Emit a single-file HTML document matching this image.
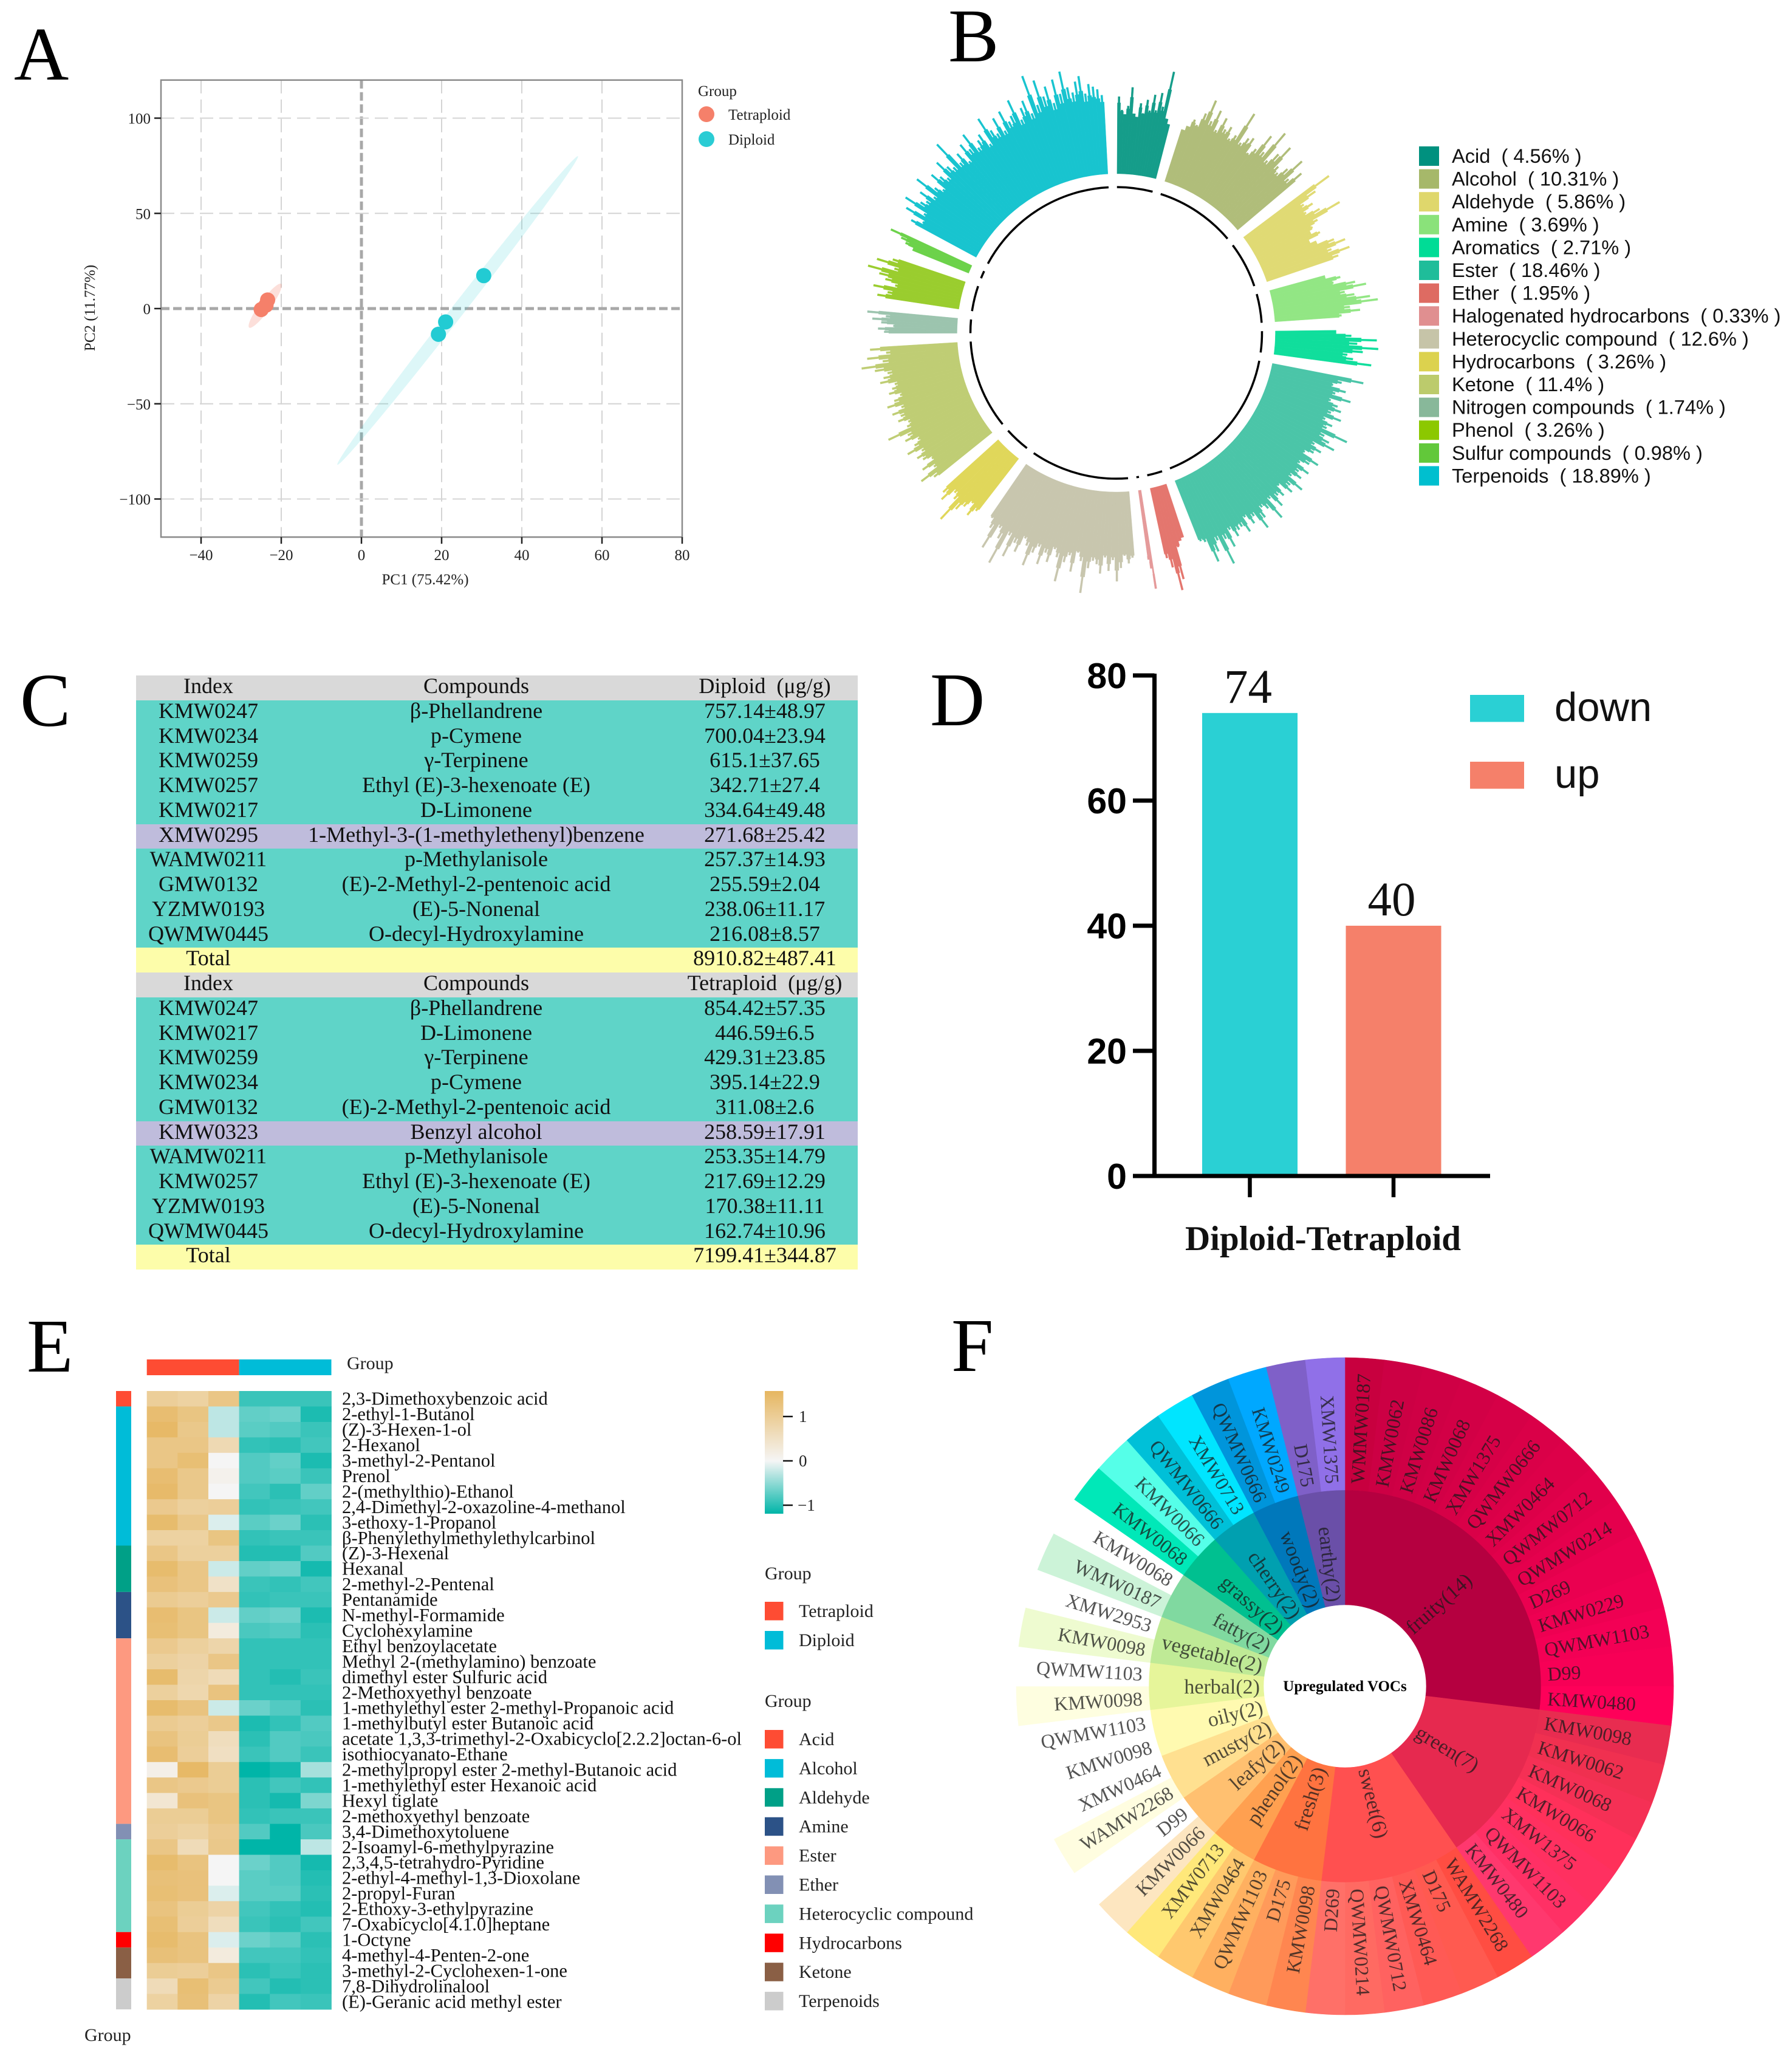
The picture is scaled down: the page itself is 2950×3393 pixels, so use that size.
<!DOCTYPE html>
<html lang="en">
<head>
<meta charset="utf-8">
<title>Volatile compounds in diploid and tetraploid samples</title>
<style>
html,body{margin:0;padding:0;background:#fff}
#page{position:relative;width:2950px;height:3393px;overflow:hidden;background:#fff}
#figure{position:absolute;left:0;top:0}
svg text{font-family:"Liberation Serif",serif;white-space:pre}
#voc-table{position:absolute;left:224px;top:1112px;width:1188px;font-family:"Liberation Serif",serif;font-size:36px;color:#111}
#voc-table .r{display:grid;grid-template-columns:238px 644px 306px;height:40.75px;line-height:35.5px;text-align:center;white-space:pre}
#voc-table .h{background:#d9d9d9}
#voc-table .t{background:#5fd4c8}
#voc-table .p{background:#bfbcdc}
#voc-table .y{background:#fdfdaa}
</style>
</head>
<body>
<div id="page">
<svg id="figure" width="2950" height="3393" viewBox="0 0 2950 3393">
  <defs>
    <linearGradient id="heat-gradient" x1="0" y1="0" x2="0" y2="1">
      <stop offset="0" stop-color="#e6b660"/>
      <stop offset="0.57" stop-color="#f5f5f5"/>
      <stop offset="1" stop-color="#00b5a8"/>
    </linearGradient>
  </defs>
  <text x="23" y="131" font-size="125">A</text>
  <text x="1561" y="101" font-size="125">B</text>
  <text x="33" y="1195" font-size="125">C</text>
  <text x="1531" y="1194" font-size="125">D</text>
  <text x="44" y="2258" font-size="125">E</text>
  <text x="1566" y="2257" font-size="125">F</text>

  <g id="panel-a">
    <text x="700" y="962" font-size="25" text-anchor="middle" fill="#222">PC1 (75.42%)</text>
    <text transform="translate(156,507) rotate(-90)" font-size="25" text-anchor="middle" fill="#222">PC2 (11.77%)</text>
    <text x="1149" y="158" font-size="25" fill="#222">Group</text>
    <circle cx="1163" cy="188" r="13" fill="#f5806a"/>
    <text x="1199" y="197" font-size="25" fill="#222">Tetraploid</text>
    <circle cx="1163" cy="229" r="13" fill="#2accd4"/>
    <text x="1199" y="238" font-size="25" fill="#222">Diploid</text>
  </g>
  <g id="panel-b"></g>
  <g id="panel-d">
    <text x="2178" y="2058" font-size="57" font-weight="bold" text-anchor="middle" fill="#111">Diploid-Tetraploid</text>
  </g>
  <g id="panel-e">
    <text x="571" y="2254" font-size="30" fill="#222">Group</text>
    <text x="139" y="3360" font-size="30" fill="#222">Group</text>
    <rect x="1259" y="2290" width="30.5" height="202" fill="url(#heat-gradient)"/>
    <text x="1259" y="2600" font-size="30" fill="#222">Group</text>
    <text x="1259" y="2810" font-size="30" fill="#222">Group</text>
  </g>
  <g id="panel-f"></g>
</svg>

<div id="voc-table">
<div class="r h"><span>Index</span><span>Compounds</span><span>Diploid  (μg/g)</span></div>
<div class="r t"><span>KMW0247</span><span>β-Phellandrene</span><span>757.14±48.97</span></div>
<div class="r t"><span>KMW0234</span><span>p-Cymene</span><span>700.04±23.94</span></div>
<div class="r t"><span>KMW0259</span><span>γ-Terpinene</span><span>615.1±37.65</span></div>
<div class="r t"><span>KMW0257</span><span>Ethyl (E)-3-hexenoate (E)</span><span>342.71±27.4</span></div>
<div class="r t"><span>KMW0217</span><span>D-Limonene</span><span>334.64±49.48</span></div>
<div class="r p"><span>XMW0295</span><span>1-Methyl-3-(1-methylethenyl)benzene</span><span>271.68±25.42</span></div>
<div class="r t"><span>WAMW0211</span><span>p-Methylanisole</span><span>257.37±14.93</span></div>
<div class="r t"><span>GMW0132</span><span>(E)-2-Methyl-2-pentenoic acid</span><span>255.59±2.04</span></div>
<div class="r t"><span>YZMW0193</span><span>(E)-5-Nonenal</span><span>238.06±11.17</span></div>
<div class="r t"><span>QWMW0445</span><span>O-decyl-Hydroxylamine</span><span>216.08±8.57</span></div>
<div class="r y"><span>Total</span><span></span><span>8910.82±487.41</span></div>
<div class="r h"><span>Index</span><span>Compounds</span><span>Tetraploid  (μg/g)</span></div>
<div class="r t"><span>KMW0247</span><span>β-Phellandrene</span><span>854.42±57.35</span></div>
<div class="r t"><span>KMW0217</span><span>D-Limonene</span><span>446.59±6.5</span></div>
<div class="r t"><span>KMW0259</span><span>γ-Terpinene</span><span>429.31±23.85</span></div>
<div class="r t"><span>KMW0234</span><span>p-Cymene</span><span>395.14±22.9</span></div>
<div class="r t"><span>GMW0132</span><span>(E)-2-Methyl-2-pentenoic acid</span><span>311.08±2.6</span></div>
<div class="r p"><span>KMW0323</span><span>Benzyl alcohol</span><span>258.59±17.91</span></div>
<div class="r t"><span>WAMW0211</span><span>p-Methylanisole</span><span>253.35±14.79</span></div>
<div class="r t"><span>KMW0257</span><span>Ethyl (E)-3-hexenoate (E)</span><span>217.69±12.29</span></div>
<div class="r t"><span>YZMW0193</span><span>(E)-5-Nonenal</span><span>170.38±11.11</span></div>
<div class="r t"><span>QWMW0445</span><span>O-decyl-Hydroxylamine</span><span>162.74±10.96</span></div>
<div class="r y"><span>Total</span><span></span><span>7199.41±344.87</span></div>
</div>
</div>

<script>
/* ---------- Panel A data ---------- */
const pcaXTicks = [-40, -20, 0, 20, 40, 60, 80];
const pcaYTicks = [-100, -50, 0, 50, 100];
const tetraploidPC1 = [-23.4, -23.8, -25];
const tetraploidPC2 = [4.5, 1.8, -0.5];
const diploidPC1 = [30.5, 21, 19.2];
const diploidPC2 = [17.3, -7, -13.5];
const tetraploidEllipsePC1 = [-28, -20];
const tetraploidEllipsePC2 = [-10, 13];
const diploidEllipsePC1 = [-6, 54];
const diploidEllipsePC2 = [-82, 80];

/* ---------- Panel B data ---------- */
const classNames = ["Acid","Alcohol","Aldehyde","Amine","Aromatics","Ester","Ether","Halogenated hydrocarbons","Heterocyclic compound","Hydrocarbons","Ketone","Nitrogen compounds","Phenol","Sulfur compounds","Terpenoids"];
const classShares = [4.56,10.31,5.86,3.69,2.71,18.46,1.95,0.33,12.6,3.26,11.4,1.74,3.26,0.98,18.89];
const classBarColors = ["#159d8a","#b0bd7a","#e0da74","#92e684","#10de9c","#4bc5a8","#e4766e","#e59a9a","#c8c6ae","#e0d75a","#bfcd74","#9cc4ae","#9acd2e","#6cd24a","#18c4cf"];
const classSwatchColors = ["#00917f","#a6b86a","#dfd76c","#8ae27a","#00dc96","#1fbd9a","#de6b62","#e08f90","#c6c4a8","#dcd24e","#bccb6c","#88b89a","#8cc800","#62c83a","#00bfcf"];
const acidBars = [127,105,98,112,143,100,95,118,102,125,108,135,110,140,118,178,100,92];
const alcoholBars = [90,98,112,105,128,154,120,142,110,135,118,126,108,118,164,112,125,130,105,118,150,122,168,115,135,156,120,112,128,154,118,140];
const aldehydeBars = [173,140,112,125,108,130,164,118,105,98,112,90,100,128,145,118,147,125];
const amineBars = [94,118,105,140,157,120,135,160,172,125,141,110];
const aromaticsBars = [100,125,167,135,170,145,120,130,161];
const esterBars = [153,118,105,128,112,140,108,122,130,115,135,110,125,118,158,120,132,145,112,128,118,105,135,122,108,130,115,125,110,138,118,128,105,122,115,132,110,146,120,112,128,144,115,125,108,132,118,120,128,112,140,122,164,118,135,150,112,108];
const etherBars = [92,96,105,158,175,135,118];
const halogenBars = [164,130,115];
const heterocyclicBars = [109,118,105,125,147,112,130,108,135,120,115,128,170,118,105,138,112,125,159,120,108,132,118,140,112,125,150,118,108,135,122,150,115,170,128,112,154,120,105];
const hydrocarbonBars = [111,125,105,118,130,159,120,112,135,125];
const ketoneBars = [120,141,110,128,105,118,125,112,135,118,108,128,120,152,115,110,125,118,130,112,134,120,108,125,118,112,135,128,120,140,161,125,150,118,144];
const nitrogenBars = [120,130,105,125,140,118,149];
const phenolBars = [136,120,145,110,128,140,161,118,150,125];
const sulfurBars = [100,115,125,146];
const terpenoidBars = [123,105,140,110,150,125,118,135,112,152,120,108,138,125,115,145,128,120,166,118,132,110,140,125,150,118,128,135,112,157,130,120,145,118,150,128,135,160,122,140,150,125,188,135,175,145,160,130,168,142,178,150,140,157,165,135,150,145,140,130];

/* ---------- Panel D data ---------- */
const diffCategories = ["down", "up"];
const diffCounts = [74, 40];
const diffTicks = [0, 20, 40, 60, 80];

/* ---------- Panel E data ---------- */
const heatLabels = ["2,3-Dimethoxybenzoic acid","2-ethyl-1-Butanol","(Z)-3-Hexen-1-ol","2-Hexanol","3-methyl-2-Pentanol","Prenol","2-(methylthio)-Ethanol","2,4-Dimethyl-2-oxazoline-4-methanol","3-ethoxy-1-Propanol","β-Phenylethylmethylethylcarbinol","(Z)-3-Hexenal","Hexanal","2-methyl-2-Pentenal","Pentanamide","N-methyl-Formamide","Cyclohexylamine","Ethyl benzoylacetate","Methyl 2-(methylamino) benzoate","dimethyl ester Sulfuric acid","2-Methoxyethyl benzoate","1-methylethyl ester 2-methyl-Propanoic acid","1-methylbutyl ester Butanoic acid","acetate 1,3,3-trimethyl-2-Oxabicyclo[2.2.2]octan-6-ol","isothiocyanato-Ethane","2-methylpropyl ester 2-methyl-Butanoic acid","1-methylethyl ester Hexanoic acid","Hexyl tiglate","2-methoxyethyl benzoate","3,4-Dimethoxytoluene","2-Isoamyl-6-methylpyrazine","2,3,4,5-tetrahydro-Pyridine","2-ethyl-4-methyl-1,3-Dioxolane","2-propyl-Furan","2-Ethoxy-3-ethylpyrazine","7-Oxabicyclo[4.1.0]heptane","1-Octyne","4-methyl-4-Penten-2-one","3-methyl-2-Cyclohexen-1-one","7,8-Dihydrolinalool","(E)-Geranic acid methyl ester"];
const heatValues = [
[.8,.7,1.05,-.85,-.85,-.85],[1.35,1.1,-.15,-.6,-.55,-1.05],[1.5,1,-.15,-.65,-.7,-.85],[1.05,1.05,.5,-.9,-.95,-.8],
[1.05,1.3,0,-.7,-.6,-1.05],[1.35,1,.03,-.7,-.65,-.85],[1.45,1,0,-.8,-.95,-.6],[.95,.75,.8,-.9,-.85,-.8],
[1.4,1,-.05,-.65,-.55,-.95],[.7,.7,1.1,-.9,-.85,-.85],[1.05,.75,.75,-1,-1,-.7],[1.4,1.05,-.1,-.6,-.55,-1.1],
[1.2,1.05,.3,-.85,-.9,-.8],[.9,.8,.95,-.9,-.85,-.85],[1.35,1.1,-.1,-.6,-.55,-1.05],[1.3,1.1,.12,-.75,-.7,-.95],
[.95,.75,.6,-.9,-.9,-.9],[.75,.65,1.05,-.9,-.9,-.9],[1.4,.6,.45,-.9,-1,-.85],[.75,.55,1.15,-.9,-.9,-.9],
[1.4,1.15,-.1,-.55,-.7,-.95],[.9,.8,1,-1.05,-.9,-.7],[1.15,.85,.4,-.95,-.7,-.75],[1.35,.8,.35,-.85,-.7,-.85],
[.05,1.5,.85,-1.25,-1.1,-.25],[1.05,.95,.85,-.95,-.8,-.9],[.2,1.2,1.1,-.95,-1.1,-.45],[.85,.85,1.1,-.9,-.85,-.85],
[.8,.7,.95,-.7,-1.25,-.75],[1.05,.45,1,-1.25,-1.25,-.15],[1.4,1.15,0,-.55,-.7,-1.1],[1.25,1.2,0,-.65,-.7,-1],
[1.3,1.2,-.05,-.65,-.65,-.95],[1.15,.85,.65,-.8,-.9,-1],[1.3,.8,.4,-.85,-.95,-.8],[1.4,1.15,-.05,-.55,-.65,-.95],
[1.25,1.15,.12,-.8,-.8,-.9],[.85,.8,1.05,-.95,-.85,-.95],[.45,1.3,.9,-.8,-1,-.95],[.7,1.25,.65,-1,-.8,-.85]];
const sampleGroups = ["Tetraploid", "Diploid"];
const sampleGroupColors = ["#fe4c33", "#00bcd8"];
const stripClasses = ["Acid","Alcohol","Aldehyde","Amine","Ester","Ether","Heterocyclic compound","Hydrocarbons","Ketone","Terpenoids"];
const stripCounts = [1,9,3,3,12,1,6,1,2,2];
const stripColors = ["#fe4c33","#00bcd8","#00a087","#2c5287","#fd9980","#8290b4","#6cd2bf","#ff0000","#8a5f45","#cccccc"];
const colorbarTicks = [1, 0, -1];

/* ---------- Panel F data ---------- */
const flavorNames = ["fruity","green","sweet","fresh","phenol","leafy","musty","oily","herbal","vegetable","fatty","grassy","cherry","woody","earthy"];
const flavorCounts = [14,7,6,3,2,2,2,2,2,2,2,2,2,2,2];
const flavorColors = ["#b50040","#e6294f","#ff5050","#ff7340","#ffa050","#ffc070","#ffe090","#fffab0","#e6f59a","#bfea96","#80d9a0","#00c090","#00a0b0","#0078bb","#6a4fa8"];
const leafLabels = ["WMMW0187","KMW0062","KMW0086","KMW0068","XMW1375","QWMW0666","XMW0464","QWMW0712","QWMW0214","D269","KMW0229","QWMW1103","D99","KMW0480","KMW0098","KMW0062","KMW0068","KMW0066","XMW1375","QWMW1103","KMW0480","WAMW2268","D175","XMW0464","QWMW0712","QWMW0214","D269","KMW0098","D175","QWMW1103","XMW0464","XMW0713","KMW0066","D99","WAMW2268","XMW0464","KMW0098","QWMW1103","KMW0098","QWMW1103","KMW0098","XMW2953","WMW0187","KMW0068","KMW0068","KMW0066","QWMW0666","XMW0713","QWMW0666","KMW0249","D175","XMW1375"];
const leafColors = ["#c8003f","#cc0044","#cf0045","#d20046","#d60047","#da0048","#dd0049","#e1004b","#e5004d","#ea0050","#ee0052","#f30055","#f70056","#fe0059","#e82c50","#f03050","#f53055","#ff305a","#ff3060","#ff3065","#ff386e","#ff4d42","#ff5a50","#ff5a55","#ff6260","#ff6a62","#ff7068","#ff8650","#ff9a5a","#ffb060","#ffc86e","#ffe87a","#fde6c0","#ffffff","#fffde0","#ffffff","#ffffff","#ffffff","#fefee0","#ffffff","#eefbd0","#ffffff","#ccf3d8","#ffffff","#00e8b8","#55ffe8","#00c0d8","#00e5ff","#0095db","#00a8ff","#7f60c8","#9070e8"];

/* ---------- Helpers ---------- */
const figure = document.getElementById('figure');
const NS = figure.namespaceURI;
function add(parent, tag, attrs, text) {
  const node = document.createElementNS(NS, tag);
  for (const key in attrs) node.setAttribute(key, attrs[key]);
  if (text !== undefined) node.textContent = text;
  parent.appendChild(node);
  return node;
}
function polar(cx, cy, r, deg) {
  const a = deg * Math.PI / 180;
  return [cx + r * Math.sin(a), cy - r * Math.cos(a)];
}
function fmt(p) { return p[0].toFixed(2) + ' ' + p[1].toFixed(2); }
function ringPath(cx, cy, r0, r1, a0, a1) {
  const large = a1 - a0 > 180 ? 1 : 0;
  return 'M' + fmt(polar(cx, cy, r0, a0)) + 'A' + r0 + ' ' + r0 + ' 0 ' + large + ' 1 ' + fmt(polar(cx, cy, r0, a1)) +
    'L' + fmt(polar(cx, cy, r1, a1)) + 'A' + r1 + ' ' + r1 + ' 0 ' + large + ' 0 ' + fmt(polar(cx, cy, r1, a0)) + 'Z';
}
function minusSign(v) { return String(v).replace('-', '\u2212'); }

/* ---------- Panel A ---------- */
(function () {
  const g = document.getElementById('panel-a');
  const px = v => 595 + 6.6 * v;
  const py = v => 508 - 3.135 * v;
  const left = px(-50), right = px(80), top = py(120), bottom = py(-120);

  pcaXTicks.slice(0, -1).forEach(v => {
    const line = add(g, 'line', {x1: px(v), x2: px(v), y1: top, y2: bottom, stroke: v === 0 ? '#a8a8a8' : '#d4d4d4', 'stroke-width': v === 0 ? 5 : 2, 'stroke-dasharray': v === 0 ? '14 6' : '22 10'});
    
    
  });
  pcaYTicks.forEach(v => {
    const line = add(g, 'line', {x1: left, x2: right, y1: py(v), y2: py(v), stroke: v === 0 ? '#a8a8a8' : '#d4d4d4', 'stroke-width': v === 0 ? 5 : 2, 'stroke-dasharray': v === 0 ? '14 6' : '22 10'});
    
    
  });

  function ellipse(xs, ys, halfWidth, color, opacity, name) {
    const x0 = px(xs[0]), x1 = px(xs[1]), y0 = py(ys[0]), y1 = py(ys[1]);
    const cx = (x0 + x1) / 2, cy = (y0 + y1) / 2;
    const half = Math.hypot(x1 - x0, y1 - y0) / 2;
    const angle = Math.atan2(y1 - y0, x1 - x0) * 180 / Math.PI;
    const e = add(g, 'ellipse', {cx: 0, cy: 0, rx: half, ry: halfWidth, fill: color, 'fill-opacity': opacity, transform: 'translate(' + cx + ' ' + cy + ') rotate(' + angle + ')'});
    
    
  }
  ellipse(tetraploidEllipsePC1, tetraploidEllipsePC2, 9, '#f5806a', 0.25, 'tetraploid-confidence-ellipse');
  ellipse(diploidEllipsePC1, diploidEllipsePC2, 10.5, '#2accd4', 0.16, 'diploid-confidence-ellipse');

  tetraploidPC1.forEach((v, i) => {
    const c = add(g, 'circle', {cx: px(v), cy: py(tetraploidPC2[i]), r: 12.5, fill: '#f5806a'});
    
    
  });
  diploidPC1.forEach((v, i) => {
    const c = add(g, 'circle', {cx: px(v), cy: py(diploidPC2[i]), r: 12.5, fill: '#22cbd3'});
    
    
  });

  const frame = add(g, 'rect', {x: left, y: top, width: right - left, height: bottom - top, fill: 'none', stroke: '#8a8a8a', 'stroke-width': 2.5});
  
  

  pcaXTicks.forEach(v => {
    const t = add(g, 'line', {x1: px(v), x2: px(v), y1: bottom, y2: bottom + 11, stroke: '#222', 'stroke-width': 2.5});
    
    
    const l = add(g, 'text', {x: px(v), y: 922, 'font-size': 25, 'text-anchor': 'middle', fill: '#222'}, minusSign(v));
    
    
  });
  pcaYTicks.forEach(v => {
    const t = add(g, 'line', {x1: left - 11, x2: left, y1: py(v), y2: py(v), stroke: '#222', 'stroke-width': 2.5});
    
    
    const l = add(g, 'text', {x: left - 17, y: py(v) + 9, 'font-size': 25, 'text-anchor': 'end', fill: '#222'}, minusSign(v));
    
    
  });
})();

/* ---------- Panel B ---------- */
(function () {
  const g = document.getElementById('panel-b');
  const cx = 1837.5, cy = 548, ringR = 240, baseR = 262;
  const gap = 3.3;
  const usable = 360 - gap * classShares.length;
  const sectorBars = [acidBars, alcoholBars, aldehydeBars, amineBars, aromaticsBars, esterBars, etherBars, halogenBars, heterocyclicBars, hydrocarbonBars, ketoneBars, nitrogenBars, phenolBars, sulfurBars, terpenoidBars];
  const barLength = v => v;
  let start = 0.3;
  classShares.forEach((share, s) => {
    const span = share / 100 * usable;
    const bars = sectorBars[s];
    const slot = span / bars.length;
    const arc = add(g, 'path', {d: 'M' + fmt(polar(cx, cy, ringR, start)) + 'A' + ringR + ' ' + ringR + ' 0 0 1 ' + fmt(polar(cx, cy, ringR, start + span)), fill: 'none', stroke: '#000', 'stroke-width': 3.5});
    
    
    bars.forEach((v, i) => {
      const mid = start + slot * (i + 0.5);
      const len = barLength(v);
      const shoulder = Math.min(len, 38 + len * 0.62);
      const a0 = start + slot * i, a1 = a0 + slot;
      const tipR = baseR + len, shoulderR = baseR + shoulder;
      const tipHalf = 1.6 / tipR * 180 / Math.PI;
      const pts = [polar(cx, cy, baseR, a0), polar(cx, cy, shoulderR, a0), polar(cx, cy, shoulderR, mid - tipHalf), polar(cx, cy, tipR, mid - tipHalf), polar(cx, cy, tipR, mid + tipHalf), polar(cx, cy, shoulderR, mid + tipHalf), polar(cx, cy, shoulderR, a1), polar(cx, cy, baseR, a1)];
      const bar = add(g, 'polygon', {points: pts.map(p => p[0].toFixed(1) + ',' + p[1].toFixed(1)).join(' '), fill: classBarColors[s], stroke: classBarColors[s], 'stroke-width': 0.4});
      
      
    });
    start += span + gap;

    const y = 257 + 37.6 * s;
    const sw = add(g, 'rect', {x: 2336, y: y - 16, width: 33, height: 32, fill: classSwatchColors[s]});
    
    
    const tx = add(g, 'text', {x: 2390, y: y + 11, 'font-size': 32.6, fill: '#111', style: 'font-family:"Liberation Sans",sans-serif'}, classNames[s] + '  ( ' + share + '% )');
    
    
  });
})();

/* ---------- Panel D ---------- */
(function () {
  const g = document.getElementById('panel-d');
  const py = v => 1936 - 10.3 * v;
  const axisX = 1900.5;
  const barCenters = i => 2057.5 + 236.5 * i;
  const barWidth = 157;
  const barColors = ['#2ad0d4', '#f5806a'];
  diffCounts.forEach((v, i) => {
    const b = add(g, 'rect', {x: barCenters(i) - barWidth / 2, y: py(v), width: barWidth, height: py(0) - py(v), fill: barColors[i]});
    
    
    const l = add(g, 'text', {x: barCenters(i) - 3, y: py(v) - 17, 'font-size': 79, 'text-anchor': 'middle', fill: '#111'}, v);
    
    
    const t = add(g, 'line', {x1: barCenters(i), x2: barCenters(i), y1: py(0), y2: 1971, stroke: '#000', 'stroke-width': 6.5});
    
    
    const sy = 1144 + 110 * i;
    const sw = add(g, 'rect', {x: 2420, y: sy, width: 89, height: 44.5, fill: barColors[i]});
    
    
    const lg = add(g, 'text', {x: 2559, y: sy + 43, 'font-size': 67, fill: '#111', style: 'font-family:"Liberation Sans",sans-serif'}, diffCategories[i]);
    
    
  });
  const yAxis = add(g, 'line', {x1: axisX, x2: axisX, y1: py(80) - 3, y2: py(0) + 3, stroke: '#000', 'stroke-width': 7});
  
  
  const xAxis = add(g, 'line', {x1: 1865, x2: 2453, y1: py(0), y2: py(0), stroke: '#000', 'stroke-width': 7});
  
  
  diffTicks.forEach(v => {
    const t = add(g, 'line', {x1: 1865, x2: axisX, y1: py(v), y2: py(v), stroke: '#000', 'stroke-width': 7});
    
    
    const l = add(g, 'text', {x: 1855, y: py(v) + 21, 'font-size': 59, 'font-weight': 'bold', 'text-anchor': 'end', fill: '#000', style: 'font-family:"Liberation Sans",sans-serif'}, v);
    
    
  });
})();

/* ---------- Panel E ---------- */
(function () {
  const g = document.getElementById('panel-e');
  const colX = i => 241.7 + 50.63 * i;
  const rowY = i => 2290 + 25.45 * i;
  const lerp = (a, b, t) => a.map((c, k) => Math.round(c + (b[k] - c) * t));
  function heatColor(v) {
    const gold = [230, 182, 96], mid = [245, 245, 245], teal = [0, 181, 168];
    const c = v >= 0 ? lerp(mid, gold, Math.pow(Math.min(v / 1.6, 1), 0.7)) : lerp(mid, teal, Math.pow(Math.min(-v / 1.25, 1), 0.7));
    return 'rgb(' + c.join(',') + ')';
  }
  sampleGroups.forEach((name, i) => {
    const b = add(g, 'rect', {x: colX(i * 3), y: 2238, width: 50.63 * 3, height: 26, fill: sampleGroupColors[i]});
    
    
    const y = 2637 + 48 * i;
    const sw = add(g, 'rect', {x: 1259, y: y, width: 30.5, height: 30.5, fill: sampleGroupColors[i]});
    
    
    const tx = add(g, 'text', {x: 1315, y: y + 25, 'font-size': 30, fill: '#222'}, name);
    
    
  });
  heatValues.forEach((row, r) => {
    row.forEach((v, c) => {
      const cell = add(g, 'rect', {x: colX(c), y: rowY(r), width: 51, height: 25.9, fill: heatColor(v)});
      
      
    });
    const lab = add(g, 'text', {x: 563, y: rowY(r) + 12.7 + 10, 'font-size': 30.5, fill: '#111'}, heatLabels[r]);
    
    
  });
  let rowCursor = 0;
  stripCounts.forEach((n, i) => {
    const s = add(g, 'rect', {x: 191, y: rowY(rowCursor), width: 25, height: 25.45 * n, fill: stripColors[i]});
    
    
    rowCursor += n;
    const y = 2863 + 47.9 * i;
    const sw = add(g, 'rect', {x: 1259, y: y - 15, width: 30.5, height: 30.5, fill: stripColors[i]});
    
    
    const tx = add(g, 'text', {x: 1315, y: y + 10, 'font-size': 30, fill: '#222'}, stripClasses[i]);
    
    
  });
  const barY = v => 2405 - 73 * v;
  colorbarTicks.forEach(v => {
    const t = add(g, 'line', {x1: 1289, x2: 1305, y1: barY(v), y2: barY(v), stroke: '#111', 'stroke-width': 2.5});
    
    
    const l = add(g, 'text', {x: v < 0 ? 1313 : 1315, y: barY(v) + 9, 'font-size': 27, fill: '#222'}, minusSign(v));
    
    
  });
})();

/* ---------- Panel F ---------- */
(function () {
  const g = document.getElementById('panel-f');
  const cx = 2214, cy = 2776, holeR = 134, midR = 323, outerR = 541;
  const total = flavorCounts.reduce((a, b) => a + b, 0);
  const angleOf = n => n / total * 360;
  function radialLabel(parent, r, deg, size, text, name) {
    const right = deg < 180;
    const p = polar(cx, cy, r, deg);
    const l = add(parent, 'text', {transform: 'translate(' + p[0].toFixed(1) + ' ' + p[1].toFixed(1) + ') rotate(' + (right ? deg - 90 : deg + 90).toFixed(2) + ')', 'font-size': size, 'text-anchor': right ? 'start' : 'end', dy: '.35em', fill: '#1a1a1a', 'fill-opacity': 0.75}, text);
    
    
  }
  let leafCursor = 0;
  flavorCounts.forEach((n, f) => {
    const a0 = angleOf(leafCursor), a1 = angleOf(leafCursor + n);
    const seg = add(g, 'path', {d: ringPath(cx, cy, holeR, midR, a0, a1), fill: flavorColors[f], stroke: flavorColors[f], 'stroke-width': 0.6});
    
    
    for (let k = 0; k < n; k++) {
      const idx = leafCursor + k;
      const leaf = add(g, 'path', {d: ringPath(cx, cy, midR, outerR, angleOf(idx), angleOf(idx + 1)), fill: leafColors[idx], stroke: leafColors[idx], 'stroke-width': 0.6});
      
      
    }
    leafCursor += n;
  });
  leafCursor = 0;
  flavorCounts.forEach((n, f) => {
    radialLabel(g, 140, angleOf(leafCursor + n / 2), 34, flavorNames[f] + '(' + n + ')', 'flavor-label');
    for (let k = 0; k < n; k++) {
      const idx = leafCursor + k;
      radialLabel(g, 334, angleOf(idx + 0.5), 32, leafLabels[idx], 'compound-label');
    }
    leafCursor += n;
  });
  const hub = add(g, 'text', {x: cx, y: cy + 8, 'font-size': 25, 'font-weight': 'bold', 'text-anchor': 'middle', fill: '#000'}, 'Upregulated VOCs');
  
  
})();
</script>
</body>
</html>
